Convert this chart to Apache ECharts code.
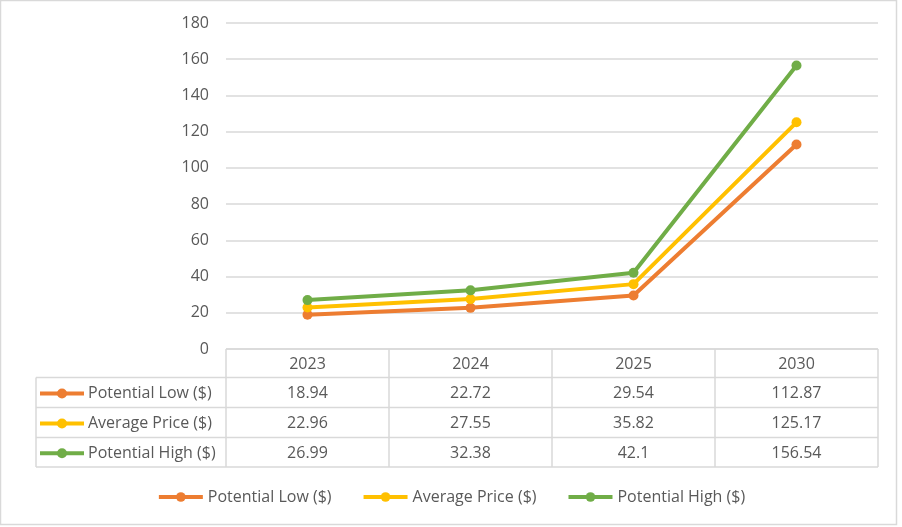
<!DOCTYPE html>
<html>
<head>
<meta charset="utf-8">
<script src="https://cdn.jsdelivr.net/npm/echarts@6/dist/echarts.min.js"></script>
<style>
html,body{margin:0;padding:0;background:#fff;}
#c{width:902px;height:527px;}
</style>
</head>
<body>
<div id="c"></div>
<script>
const categories = ['2023', '2024', '2025', '2030'];
const seriesNames = ['Potential Low ($)', 'Average Price ($)', 'Potential High ($)'];
const lowValues = [18.94, 22.72, 29.54, 112.87];
const avgValues = [22.96, 27.55, 35.82, 125.17];
const highValues = [26.99, 32.38, 42.1, 156.54];
const yMin = 0, yMax = 180, yStep = 20;
const colors = ['#ED7D31', '#FFC000', '#70AD47'];

const allValues = [lowValues, avgValues, highValues];
const FONT = '"Open Sans", Lato, sans-serif';
const FS = 16;
const TXT = '#595959';
const GRID_C = '#D9D9D9';
const W = 902, H = 527;
const gL = 226, gR = 878, gT = 23, gB = 349;
const tableLeft = 36;
const rowLines = [349, 377.5, 407.5, 437.5, 467];

const chart = echarts.init(document.getElementById('c'), null, {renderer: 'canvas'});

function tableGraphics() {
  const els = [];
  const colW = (gR - gL) / categories.length;
  const lineStyle = {stroke: GRID_C, lineWidth: 1.5};
  els.push({type: 'rect', shape: {x: 0.5, y: 0.5, width: 896, height: 524}, style: {fill: null, stroke: GRID_C, lineWidth: 1.5}, silent: true});
  rowLines.forEach((y, i) => {
    els.push({type: 'line', shape: {x1: i === 0 ? gL : tableLeft, y1: y, x2: gR, y2: y}, style: lineStyle, silent: true});
  });
  els.push({type: 'line', shape: {x1: tableLeft, y1: rowLines[1], x2: tableLeft, y2: rowLines[4]}, style: lineStyle, silent: true});
  for (let i = 0; i <= categories.length; i++) {
    const x = gL + i * colW;
    els.push({type: 'line', shape: {x1: x, y1: rowLines[0], x2: x, y2: rowLines[4]}, style: lineStyle, silent: true});
  }
  categories.forEach((c, i) => {
    els.push({type: 'text', x: gL + (i + 0.5) * colW, y: (rowLines[0] + rowLines[1]) / 2 + 1,
      style: {text: c, fill: TXT, font: FS + 'px ' + FONT, align: 'center', verticalAlign: 'middle'}, silent: true});
  });
  seriesNames.forEach((name, r) => {
    const yc = (rowLines[r + 1] + rowLines[r + 2]) / 2 + 1;
    els.push({type: 'line', shape: {x1: 40, y1: yc, x2: 84, y2: yc}, style: {stroke: colors[r], lineWidth: 4}, silent: true});
    els.push({type: 'circle', shape: {cx: 62, cy: yc, r: 5}, style: {fill: colors[r]}, silent: true});
    els.push({type: 'text', x: 88, y: yc,
      style: {text: name, fill: TXT, font: FS + 'px ' + FONT, align: 'left', verticalAlign: 'middle'}, silent: true});
    allValues[r].forEach((v, i) => {
      els.push({type: 'text', x: gL + (i + 0.5) * colW, y: yc,
        style: {text: String(v), fill: TXT, font: FS + 'px ' + FONT, align: 'center', verticalAlign: 'middle'}, silent: true});
    });
  });
  return els;
}

const option = {
  animation: false,
  color: colors,
  textStyle: {fontFamily: FONT},
  grid: {left: gL, right: W - gR, top: gT, bottom: H - gB, containLabel: false},
  legend: {
    data: seriesNames,
    left: 'center',
    top: 484,
    itemWidth: 44,
    itemHeight: 12,
    itemGap: 30,
    lineStyle: {width: 4},
    textStyle: {color: TXT, fontSize: FS, fontFamily: FONT}
  },
  xAxis: {
    type: 'category',
    data: categories,
    boundaryGap: true,
    axisLine: {show: false},
    axisTick: {show: false},
    axisLabel: {show: false},
    splitLine: {show: false}
  },
  yAxis: {
    type: 'value',
    min: yMin,
    max: yMax,
    interval: yStep,
    axisLine: {show: false},
    axisTick: {show: false},
    axisLabel: {color: TXT, fontSize: FS, fontFamily: FONT, margin: 17},
    splitLine: {lineStyle: {color: GRID_C, width: 1.5}}
  },
  series: seriesNames.map((n, i) => ({
    name: n,
    type: 'line',
    data: allValues[i],
    symbol: 'circle',
    symbolSize: 10,
    lineStyle: {width: 4, color: colors[i]},
    itemStyle: {color: colors[i]},
    z: 3 + i
  })),
  graphic: tableGraphics()
};
chart.setOption(option);
</script>
</body>
</html>
